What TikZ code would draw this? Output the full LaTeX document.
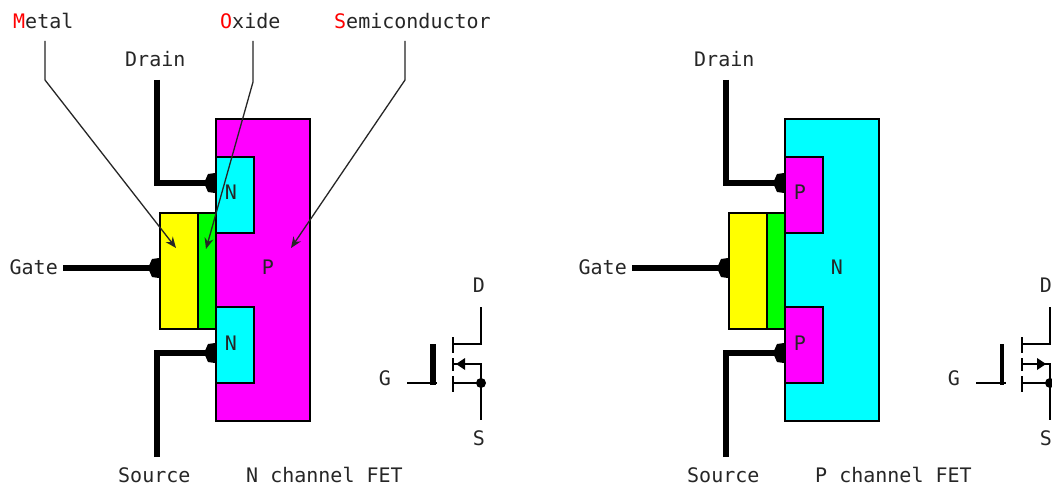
\documentclass[tikz,border=0pt]{standalone}
\usepackage{fontspec}
\setmainfont{DejaVu Sans Mono}
\usetikzlibrary{arrows.meta}
\definecolor{redl}{RGB}{255,0,0}
\definecolor{cy}{RGB}{0,255,255}
\definecolor{mg}{RGB}{255,0,255}
\definecolor{yl}{RGB}{255,255,0}
\definecolor{gr}{RGB}{0,255,0}
\tikzset{x=1pt,y=-1pt,
 lbl/.style={font=\fontsize{20}{20}\selectfont,inner sep=0pt,text=black!85},
 box/.style={draw=black,line width=1.8pt,inner sep=0pt,anchor=north west},
 wire/.style={line width=5.5pt,line cap=butt,line join=miter},
 thin1/.style={line width=1.3pt,draw=black!85,-{Stealth[length=11pt,width=9pt]}},
 sym/.style={line width=1.7pt},
 dot/.style={circle,fill=black,inner sep=0pt,minimum size=#1}
}
\begin{document}
\begin{tikzpicture}
\useasboundingbox (0,0) rectangle (1052,492);
\fill[white] (0,0) rectangle (1052,492);
% ---- left FET
\node[box,fill=mg,minimum width=94pt,minimum height=302pt] (sub1) at (215,118) {};
\node[box,fill=cy,minimum width=38pt,minimum height=76pt] (d1) at (215,156) {};
\node[box,fill=cy,minimum width=38pt,minimum height=76pt] (s1) at (215,306) {};
\node[box,fill=yl,minimum width=38pt,minimum height=116pt] (m1) at (159,212) {};
\node[box,fill=gr,minimum width=18pt,minimum height=116pt] (o1) at (197,212) {};
\node[lbl] (tp1) at (268,267) {P};
\node[lbl] (tn1) at (231,192) {N};
\node[lbl] (tn2) at (231,343) {N};
\node[lbl,anchor=west] (dr1) at (125,59) {Drain};
\node[lbl,anchor=west] (so1) at (118,475) {Source};
\node[lbl,anchor=east] (ga1) at (58,267) {Gate};
\node[lbl,anchor=west] (tt1) at (246,475) {N channel FET};
\coordinate (dt1) at (157,80); \coordinate (db1) at (157,183);
\coordinate (st1) at (157,457); \coordinate (sb1) at (157,353);
\coordinate (gl1) at (63,268);
\draw[wire] (dt1) -- (db1) -- (d1.west |- db1);
\draw[wire] (st1) -- (sb1) -- (s1.west |- sb1);
\draw[wire] (gl1) -- (m1.west |- gl1);
\fill (215,173) -- (215,193) -- (208,192) -- (204,183) -- (208,174) -- cycle;
\fill (215,343) -- (215,363) -- (208,362) -- (204,353) -- (208,344) -- cycle;
\fill (159,258) -- (159,278) -- (152,277) -- (148,268) -- (152,259) -- cycle;
% callouts
\node[lbl,anchor=west] (me) at (13,21) {\textcolor{redl}{M}etal};
\node[lbl,anchor=west] (ox) at (220,21) {\textcolor{redl}{O}xide};
\node[lbl,anchor=west] (se) at (334,21) {\textcolor{redl}{S}emiconductor};
\coordinate (ma) at (45,41); \coordinate (mb) at (45,80); \coordinate (mc) at (176,248);
\coordinate (oa) at (253,41); \coordinate (ob) at (253,82); \coordinate (oc) at (206,249);
\coordinate (sa) at (405,41); \coordinate (sb) at (405,80); \coordinate (sc) at (291,248);
\draw[thin1] (ma) -- (mb) -- (mc);
\draw[thin1] (oa) -- (ob) -- (oc);
\draw[thin1] (sa) -- (sb) -- (sc);
% symbol N
\node[lbl] (sd1) at (479,285) {D};
\node[lbl] (sg1) at (385,378) {G};
\node[lbl] (ss1) at (479,438) {S};
\draw[sym] (407,383) -- (437,383);
\draw[line width=5.5pt] (433,344) -- (433,385);
\draw[sym,line width=2pt] (453,337) -- (453,353) (453,358) -- (453,371) (453,376) -- (453,392);
\draw[sym] (453,344) -- (481,344) -- (481,307);
\draw[sym] (453,364) -- (481,364) -- (481,420);
\draw[sym] (453,383) -- (481,383);
\node[dot=10pt] (sj1) at (481,383) {};
\fill (456,364) -- (465,358) -- (465,370) -- cycle;
% ---- right FET
\node[box,fill=cy,minimum width=94pt,minimum height=302pt] (sub2) at (784,118) {};
\node[box,fill=mg,minimum width=38pt,minimum height=76pt] (d2) at (784,156) {};
\node[box,fill=mg,minimum width=38pt,minimum height=76pt] (s2) at (784,306) {};
\node[box,fill=yl,minimum width=38pt,minimum height=116pt] (m2) at (728,212) {};
\node[box,fill=gr,minimum width=18pt,minimum height=116pt] (o2) at (766,212) {};
\node[lbl] (tn3) at (837,267) {N};
\node[lbl] (tp2) at (800,192) {P};
\node[lbl] (tp3) at (800,343) {P};
\node[lbl,anchor=west] (dr2) at (694,59) {Drain};
\node[lbl,anchor=west] (so2) at (687,475) {Source};
\node[lbl,anchor=east] (ga2) at (627,267) {Gate};
\node[lbl,anchor=west] (tt2) at (815,475) {P channel FET};
\coordinate (dt2) at (726,80); \coordinate (db2) at (726,183);
\coordinate (st2) at (726,457); \coordinate (sb2) at (726,353);
\coordinate (gl2) at (632,268);
\draw[wire] (dt2) -- (db2) -- (d2.west |- db2);
\draw[wire] (st2) -- (sb2) -- (s2.west |- sb2);
\draw[wire] (gl2) -- (m2.west |- gl2);
\fill (784,173) -- (784,193) -- (777,192) -- (773,183) -- (777,174) -- cycle;
\fill (784,343) -- (784,363) -- (777,362) -- (773,353) -- (777,344) -- cycle;
\fill (728,258) -- (728,278) -- (721,277) -- (717,268) -- (721,259) -- cycle;
% symbol P
\node[lbl] (sd2) at (1046,285) {D};
\node[lbl] (sg2) at (954,378) {G};
\node[lbl] (ss2) at (1046,438) {S};
\draw[sym] (976,383) -- (1006,383);
\draw[line width=3.5pt] (1002,344) -- (1002,385);
\draw[sym,line width=2pt] (1022,337) -- (1022,353) (1022,358) -- (1022,371) (1022,376) -- (1022,392);
\draw[sym] (1022,344) -- (1050,344) -- (1050,307);
\draw[sym] (1022,364) -- (1050,364) -- (1050,420);
\draw[sym] (1022,383) -- (1050,383);
\node[dot=10pt] (sj2) at (1050,383) {};
\fill (1046,364) -- (1037,358) -- (1037,370) -- cycle;
\end{tikzpicture}
\end{document}
